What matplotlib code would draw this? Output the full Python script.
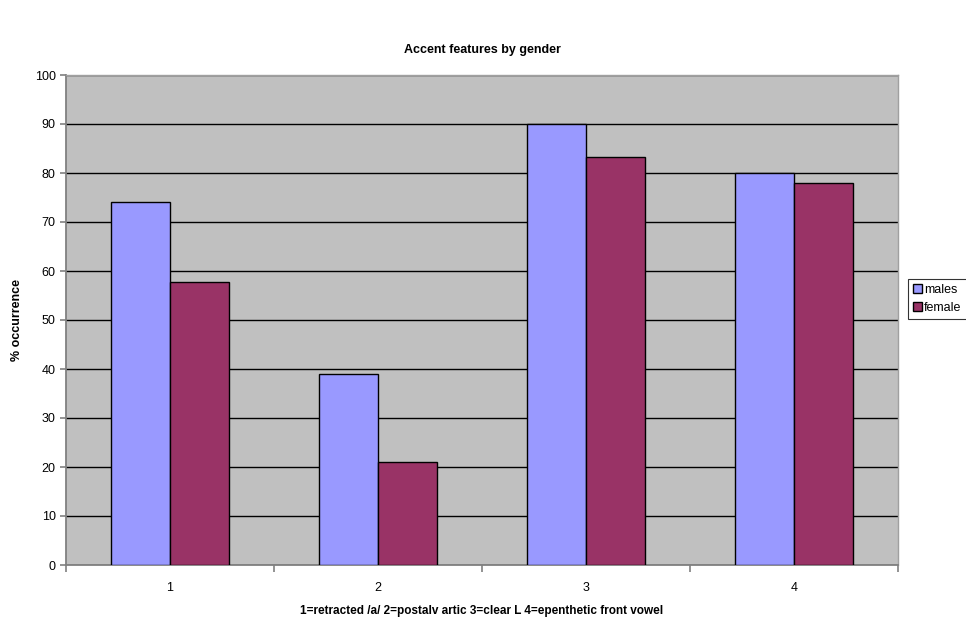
import numpy as np
import matplotlib; matplotlib.use("Agg"); import matplotlib.pyplot as plt
from matplotlib.ticker import FixedLocator, NullFormatter

plt.rcParams['font.family'] = ['Liberation Sans', 'DejaVu Sans']

categories = ["1", "2", "3", "4"]
males = [74, 39, 90, 80]
female = [57.8, 21, 83.3, 78]

fig = plt.figure(figsize=(9.66, 6.17), dpi=100)
ax = fig.add_axes([66/966, 52/617, 832/966, 490/617])
ax.set_facecolor("#c0c0c0")

x = np.arange(len(categories)) + 0.5
w = 0.285
ax.bar(x - w/2, males, w, color="#9999ff", edgecolor="black", linewidth=1, label="males", zorder=3)
ax.bar(x + w/2, female, w, color="#993366", edgecolor="black", linewidth=1, label="female", zorder=3)

ax.set_xlim(0, 4); ax.set_ylim(0, 100)
ax.set_yticks(range(0, 101, 10))
ax.yaxis.grid(True, color="black", linewidth=1, zorder=1)
ax.set_axisbelow(True)
ax.xaxis.set_major_locator(FixedLocator([0, 1, 2, 3, 4]))
ax.xaxis.set_major_formatter(NullFormatter())
ax.xaxis.set_minor_locator(FixedLocator(x))
ax.set_xticklabels(categories, minor=True)
ax.tick_params(axis="x", which="minor", length=0, pad=12, labelsize=9)
ax.tick_params(axis="x", which="major", length=5, color="#808080", width=1.2)
ax.tick_params(axis="y", length=4, color="#808080", width=1.2, labelsize=9)
for s in ["top", "right"]:
    ax.spines[s].set_color("#a0a0a0"); ax.spines[s].set_linewidth(1)
for s in ["left", "bottom"]:
    ax.spines[s].set_color("#808080"); ax.spines[s].set_linewidth(1.3)

ax.set_title("Accent features by gender", fontsize=9, fontweight="bold", pad=16)
ax.set_ylabel("% occurrence", fontsize=9, fontweight="bold", labelpad=8)
ax.set_xlabel("1=retracted /a/ 2=postalv artic 3=clear L 4=epenthetic front vowel", fontsize=8.5, fontweight="bold", labelpad=8)

leg = ax.legend(loc="center left", bbox_to_anchor=(908/966, 318/617), bbox_transform=fig.transFigure,
                fontsize=9, frameon=True, fancybox=False, handlelength=0.7, handleheight=0.7,
                handletextpad=0.2, borderpad=0.4, labelspacing=0.5, borderaxespad=0)
leg.get_frame().set_edgecolor("black"); leg.get_frame().set_linewidth(0.8)

fig.savefig("out.png", dpi=100)
